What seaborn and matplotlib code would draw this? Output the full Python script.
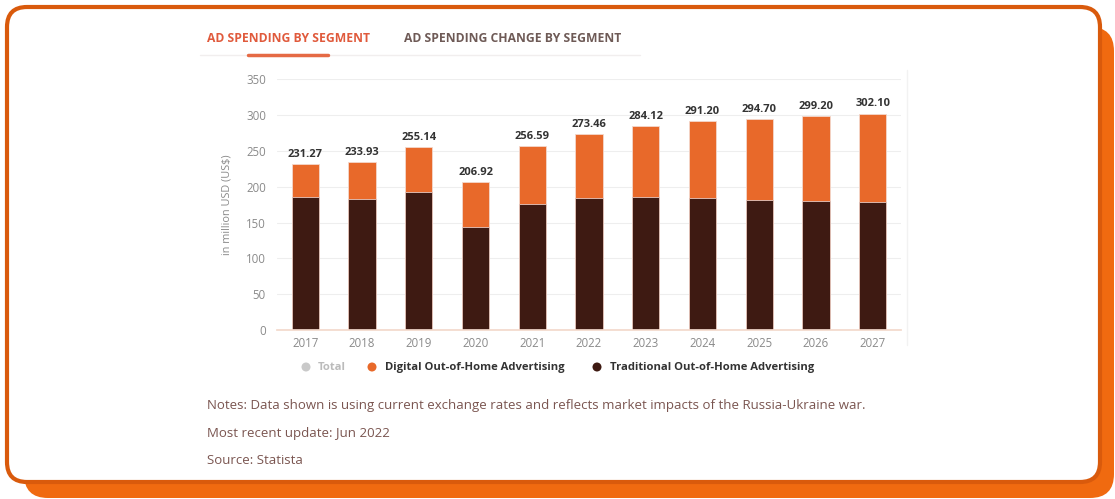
import matplotlib
matplotlib.use("Agg")
import matplotlib.pyplot as plt
import seaborn as sns
import pandas as pd
from matplotlib.patches import FancyBboxPatch, Circle

years = ["2017", "2018", "2019", "2020", "2021", "2022", "2023", "2024", "2025", "2026", "2027"]
totals = [231.27, 233.93, 255.14, 206.92, 256.59, 273.46, 284.12, 291.20, 294.70, 299.20, 302.10]
traditional = [186, 182.5, 192.3, 143.4, 176, 184, 186, 184.8, 181.6, 180.6, 179.2]
digital = [t - d for t, d in zip(totals, traditional)]
legend_labels = ["Total", "Digital Out-of-Home Advertising", "Traditional Out-of-Home Advertising"]
y_ticks = [0, 50, 100, 150, 200, 250, 300, 350]

ORANGE = "#e8692a"
BROWN = "#3e1a12"
GREY = "#c9c9c9"

sns.set_theme(style="white")
plt.rcParams['font.family'] = ['Open Sans', 'DejaVu Sans']

W, H = 1115, 499
fig = plt.figure(figsize=(W / 100, H / 100), dpi=100)

# background layer in pixel coords
bg = fig.add_axes([0, 0, 1, 1], zorder=0)
bg.set_xlim(0, W)
bg.set_ylim(H, 0)
bg.axis("off")
bg.add_patch(FancyBboxPatch((24, 27), W - 24 - 1, H - 27 - 1,
                            boxstyle="round,pad=0,rounding_size=24",
                            fc="#f06a10", ec="none"))
bg.add_patch(FancyBboxPatch((7, 7), 1093, 475,
                            boxstyle="round,pad=0,rounding_size=20",
                            fc="white", ec="#d95a0c", lw=3))
# tabs
bg.text(207, 38, "AD SPENDING BY SEGMENT", fontsize=8.7, fontweight="bold",
        color="#e05a3c", va="center", ha="left")
bg.text(404, 38, "AD SPENDING CHANGE BY SEGMENT", fontsize=8.7, fontweight="bold",
        color="#6e5a56", va="center", ha="left")
bg.plot([200, 640], [55, 55], color="#f1eeee", lw=1)
bg.plot([248, 328], [54.5, 54.5], color="#e56a45", lw=2.5, solid_capstyle="round")

# notes
note_color = "#7a5550"
bg.text(207, 406, "Notes: Data shown is using current exchange rates and reflects market impacts of the Russia-Ukraine war.",
        fontsize=9.5, color=note_color, va="center", ha="left")
bg.text(207, 433, "Most recent update: Jun 2022", fontsize=9.5, color=note_color, va="center", ha="left")
bg.text(207, 460, "Source: Statista", fontsize=9.5, color=note_color, va="center", ha="left")

# legend
leg_items = [(306, 318, GREY, "#bbbbbb", legend_labels[0]),
             (372, 385, ORANGE, "#333333", legend_labels[1]),
             (597, 610, BROWN, "#333333", legend_labels[2])]
for cx, tx, col, tcol, lab in leg_items:
    bg.add_patch(Circle((cx, 367), 4.5, fc=col, ec="none"))
    bg.text(tx, 367.5, lab, fontsize=8.1, fontweight="bold", color=tcol, va="center", ha="left")

# chart
left_px, right_px = 277, 901
top_px, bot_px = 79.3, 330
ax = fig.add_axes([left_px / W, 1 - bot_px / H, (right_px - left_px) / W, (bot_px - top_px) / H], zorder=1)
ax.patch.set_alpha(0)

df = pd.DataFrame({"year": years, "total": totals, "traditional": traditional})
sns.barplot(data=df, x="year", y="total", color=ORANGE, width=0.48, ax=ax,
            edgecolor="#f4d8cc", linewidth=0.6, saturation=1)
sns.barplot(data=df, x="year", y="traditional", color=BROWN, width=0.48, ax=ax,
            edgecolor="#e9c9c0", linewidth=0.6, saturation=1)

for i, t in enumerate(totals):
    ax.annotate(f"{t:.2f}", (i, t), xytext=(0, 3), textcoords="offset points",
                ha="center", va="bottom", fontsize=8, fontweight="bold", color="#333333")

ax.set_ylim(0, 350)
ax.set_xlim(-0.5, len(years) - 0.5)
ax.set_yticks(y_ticks)
ax.set_yticklabels([str(v) for v in y_ticks])
ax.yaxis.grid(True, color="#eeeeee", lw=0.8)
ax.set_axisbelow(True)
for s in ["top", "right", "left"]:
    ax.spines[s].set_visible(False)
ax.spines["bottom"].set_color("#f3d9cc")
ax.tick_params(axis="both", labelsize=8.3, colors="#8a8a8a", length=0, pad=8)
ax.tick_params(axis="x", pad=5)
ax.set_xlabel("")
ax.set_ylabel("in million USD (US$)", fontsize=7.8, color="#8a8a8a", labelpad=10)

# faint right border of chart panel
bg.plot([907, 907], [70, 345], color="#f2f2f2", lw=1)

fig.savefig("out.png", dpi=100)
